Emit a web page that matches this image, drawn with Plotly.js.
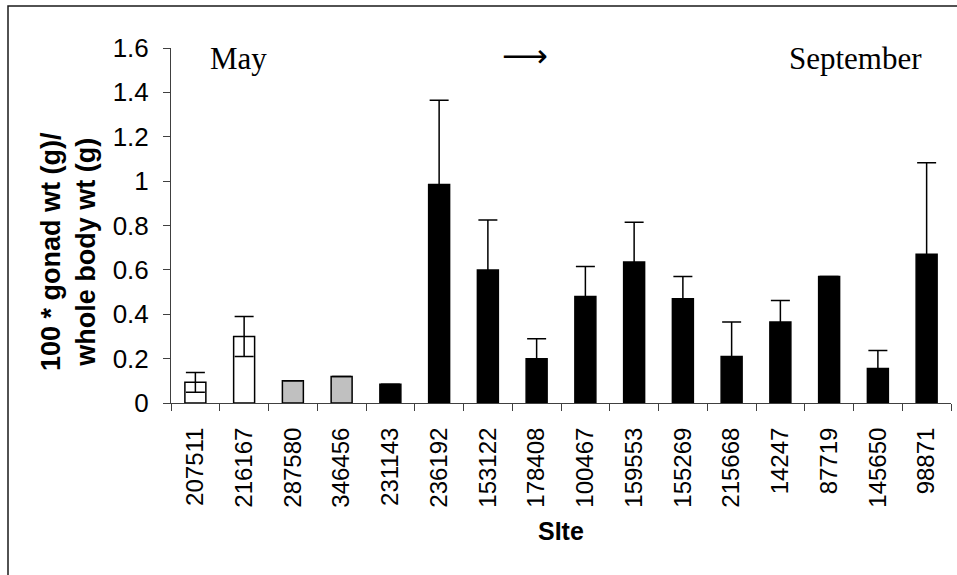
<!DOCTYPE html>
<html>
<head>
<meta charset="utf-8">
<script src="https://cdn.plot.ly/plotly-3.0.1.min.js"></script>
<style>html,body{margin:0;padding:0;background:#fff;}#chart{width:957px;height:575px;}</style>
</head>
<body>
<div id="chart"></div>
<script>
const sites = ["207511","216167","287580","346456","231143","236192","153122","178408","100467","159553","155269","215668","14247","87719","145650","98871"];
const gsi = [0.093,0.30,0.10,0.12,0.085,0.985,0.60,0.20,0.48,0.635,0.47,0.21,0.365,0.57,0.155,0.67];
const gsiErr = [0.045,0.09,0,0,0,0.38,0.225,0.09,0.135,0.18,0.10,0.155,0.097,0,0.082,0.413];
const barColors = ["#ffffff","#ffffff","#c0c0c0","#c0c0c0","#000000","#000000","#000000","#000000","#000000","#000000","#000000","#000000","#000000","#000000","#000000","#000000"];
const yTitleLines = ["100 * gonad wt (g)/","whole body wt (g)"];
const xTitle = "SIte";
const monthLabels = ["May","\u27F6","September"];

const trace = {
  type: 'bar',
  x: sites,
  y: gsi,
  marker: {color: barColors, line: {color: '#000000', width: 1.5}},
  error_y: {type: 'data', array: gsiErr, visible: true, color: '#000000', thickness: 1.5, width: 9.5},
  hoverinfo: 'x+y'
};

const layout = {
  width: 957, height: 575,
  margin: {l: 171, r: 6, t: 48, b: 172},
  paper_bgcolor: '#ffffff', plot_bgcolor: '#ffffff',
  showlegend: false,
  bargap: 0.57,
  font: {family: 'Liberation Sans, Arial, sans-serif', color: '#000000'},
  xaxis: {
    type: 'category',
    showline: true, linecolor: '#404040', linewidth: 1,
    ticks: 'outside', ticklen: 7, tickcolor: '#404040', tickson: 'boundaries',
    tickangle: -90,
    tickfont: {size: 24, family: 'Liberation Sans, Arial, sans-serif'},
    ticklabelstandoff: 14,
    showgrid: false, zeroline: false,
    title: {text: ''}
  },
  yaxis: {
    range: [0, 1.6], dtick: 0.2,
    showline: true, linecolor: '#404040', linewidth: 1,
    ticks: 'outside', ticklen: 7, tickcolor: '#404040',
    tickfont: {size: 26, family: 'Liberation Sans, Arial, sans-serif'},
    ticklabelstandoff: 9,
    showgrid: false, zeroline: false,
    title: {text: ''}
  },
  annotations: [
    {text: '<b>' + yTitleLines.join('<br>') + '</b>', xref: 'paper', yref: 'paper',
     x: (68 - 171) / 780, y: (403 - 252) / 355, xanchor: 'center', yanchor: 'middle',
     textangle: -90, showarrow: false, font: {size: 27, family: 'Liberation Sans, Arial, sans-serif'}},
    {text: '<b>' + xTitle + '</b>', xref: 'paper', yref: 'paper',
     x: (561 - 171) / 780, y: (403 - 531) / 355, xanchor: 'center', yanchor: 'middle',
     showarrow: false, font: {size: 25, family: 'Liberation Sans, Arial, sans-serif'}},
    {text: monthLabels[0], xref: 'paper', yref: 'paper',
     x: (208 - 171) / 780, y: (403 - 59) / 355, xanchor: 'left', yanchor: 'middle',
     showarrow: false, font: {size: 31, family: 'Liberation Serif, Times New Roman, serif'}},
    {text: monthLabels[1], xref: 'paper', yref: 'paper',
     x: (525 - 171) / 780, y: (403 - 56) / 355, xanchor: 'center', yanchor: 'middle',
     showarrow: false, font: {size: 32, family: 'DejaVu Sans, sans-serif'}},
    {text: monthLabels[2], xref: 'paper', yref: 'paper',
     x: (924 - 171) / 780, y: (403 - 59) / 355, xanchor: 'right', yanchor: 'middle',
     showarrow: false, font: {size: 31, family: 'Liberation Serif, Times New Roman, serif'}}
  ],
  shapes: [
    {type: 'rect', xref: 'paper', yref: 'paper',
     x0: (8 - 171) / 780, x1: 1.2, y0: -1, y1: (403 - 6) / 355,
     line: {color: '#1a1a1a', width: 1.5}, fillcolor: 'rgba(0,0,0,0)', layer: 'below'}
  ]
};

Plotly.newPlot('chart', [trace], layout, {displayModeBar: false, staticPlot: true});
</script>
</body>
</html>
